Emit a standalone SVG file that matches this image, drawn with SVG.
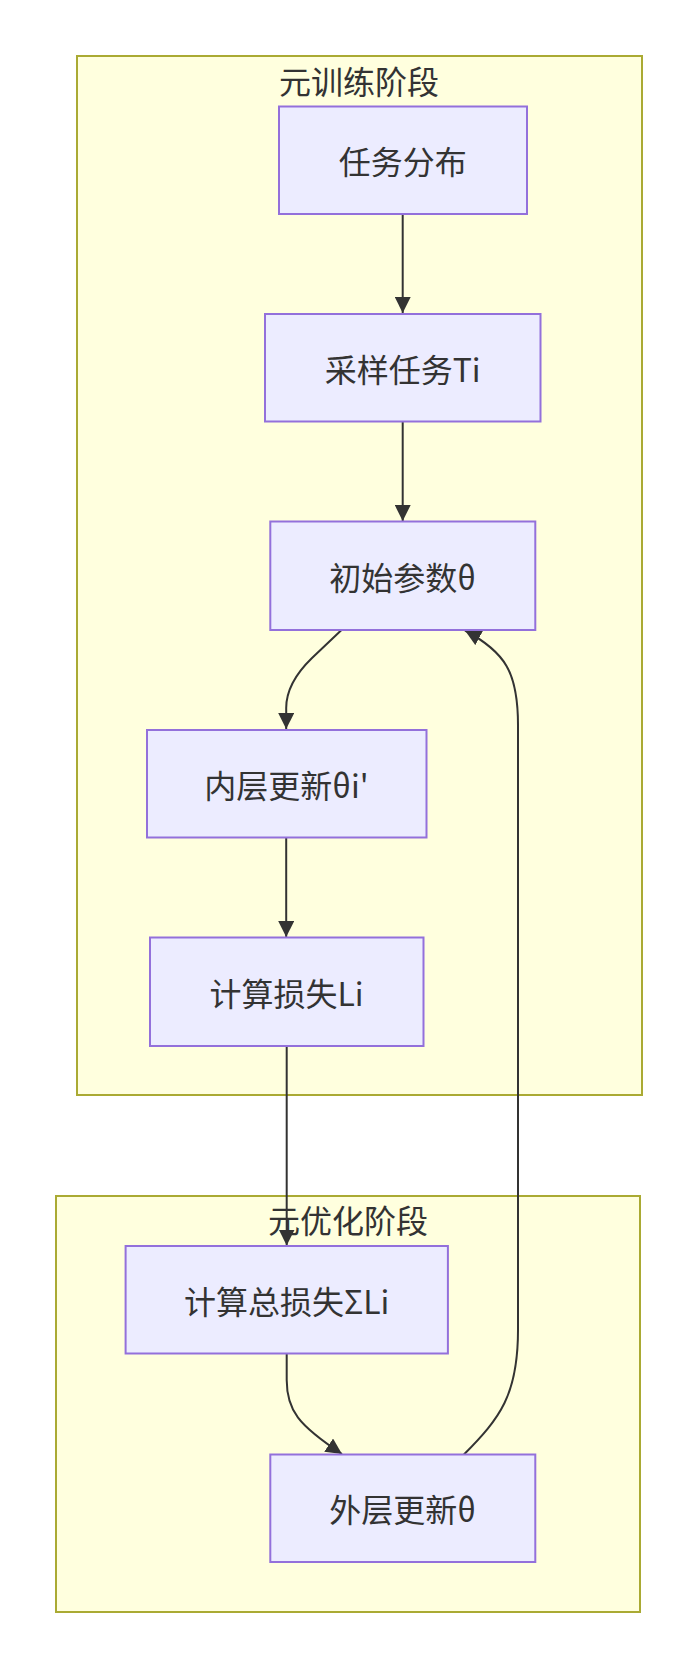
<svg xmlns="http://www.w3.org/2000/svg" width="698" height="1668" viewBox="0 0 698 1668">
<style>
.cluster rect{fill:#ffffde;stroke:#aaaa33;stroke-width:2}
.node rect{fill:#ececff;stroke:#9370db;stroke-width:2}
text{font-family:"Noto Sans CJK SC","Noto Sans",sans-serif;font-size:32px;fill:#333;text-anchor:middle;dominant-baseline:central}
.edge{fill:none;stroke:#333;stroke-width:2;marker-end:url(#arrow)}
</style>
<defs>
<marker id="arrow" viewBox="0 0 10 10" refX="10" refY="5" markerUnits="userSpaceOnUse" markerWidth="16" markerHeight="16" orient="auto">
<path d="M0,0 L10,5 L0,10 z" fill="#333"/>
</marker>
</defs>
<rect width="698" height="1668" fill="#ffffff"/>
<g id="cluster-meta-train" class="cluster">
<rect x="77" y="56" width="565" height="1039"/>
<text x="359" y="80">元训练阶段</text>
</g>
<g id="cluster-meta-opt" class="cluster">
<rect x="56" y="1196" width="584" height="416"/>
<text x="348" y="1219">元优化阶段</text>
</g>
<g id="edges">
<path class="edge" d="M402.7,214 L402.7,313"/>
<path class="edge" d="M402.7,421.5 L402.7,521"/>
<path class="edge" d="M341.5,630 L312,658 Q286.2,683 286.2,708 L286.2,729"/>
<path class="edge" d="M286.2,837.5 L286.2,937"/>
<path class="edge" d="M286.7,1046 L286.7,1245.5"/>
<path class="edge" d="M286.7,1353.5 L286.7,1380 C286.7,1410 298,1425 342,1454"/>
<path class="edge" d="M463.9,1454.5 C500,1418 518,1395 518,1330 L518,725 C518,672 505,652 465,630.5"/>
</g>
<g id="node-task-dist" class="node">
<rect x="279" y="106.5" width="248" height="107.5"/>
<text x="402.7" y="160">任务分布</text>
</g>
<g id="node-sample-task" class="node">
<rect x="265" y="314" width="275.5" height="107.5"/>
<text x="402.7" y="367.5">采样任务Ti</text>
</g>
<g id="node-init-param" class="node">
<rect x="270.3" y="521.5" width="265" height="108.5"/>
<text x="402.7" y="575.5">初始参数θ</text>
</g>
<g id="node-inner-update" class="node">
<rect x="147" y="730" width="279.5" height="107.5"/>
<text x="286.5" y="783.5">内层更新θi'</text>
</g>
<g id="node-compute-loss" class="node">
<rect x="150" y="937.5" width="273.5" height="108.5"/>
<text x="286.5" y="991.5">计算损失Li</text>
</g>
<g id="node-total-loss" class="node">
<rect x="125.6" y="1246" width="322.3" height="107.5"/>
<text x="286.7" y="1299.5">计算总损失ΣLi</text>
</g>
<g id="node-outer-update" class="node">
<rect x="270.3" y="1454.5" width="265" height="107.5"/>
<text x="402.7" y="1508">外层更新θ</text>
</g>
</svg>
